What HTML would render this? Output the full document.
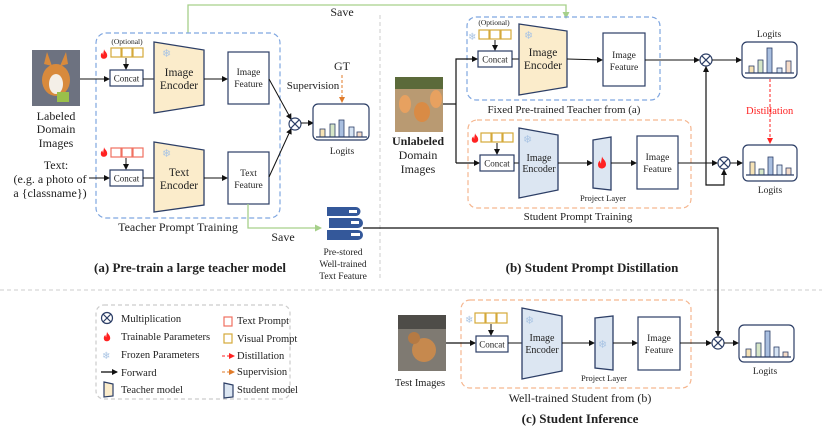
<!DOCTYPE html>
<html><head><meta charset="utf-8"><style>
html,body{margin:0;padding:0;background:#fff}
svg{display:block}
text{font-family:"Liberation Serif",serif;fill:#222}
</style></head><body>
<svg width="822" height="436" viewBox="0 0 822 436" xmlns="http://www.w3.org/2000/svg">
<defs>
<marker id="ab" markerWidth="6" markerHeight="6" refX="5" refY="3" orient="auto" markerUnits="userSpaceOnUse"><path d="M0,0 L6,3 L0,6 z" fill="#111"/></marker>
<marker id="ag" markerWidth="7" markerHeight="7" refX="6" refY="3.5" orient="auto" markerUnits="userSpaceOnUse"><path d="M0,0 L7,3.5 L0,7 z" fill="#a6d08a"/></marker>
<marker id="ao" markerWidth="6" markerHeight="6" refX="5" refY="3" orient="auto" markerUnits="userSpaceOnUse"><path d="M0,0 L6,3 L0,6 z" fill="#e07b2a"/></marker>
<marker id="ar" markerWidth="6" markerHeight="6" refX="5" refY="3" orient="auto" markerUnits="userSpaceOnUse"><path d="M0,0 L6,3 L0,6 z" fill="#f22"/></marker>
<symbol id="fire" viewBox="0 0 10 12"><path d="M5,0 C6,3 9,4 9,8 C9,11 6,12 5,12 C3,12 1,11 1,8 C1,6 2,5 3,4 C3,6 4,7 4,7 C4,4 5,2 5,0z" fill="#f22"/></symbol>
</defs>

<line x1="380" y1="15" x2="380" y2="278" stroke="#ccc" stroke-dasharray="4,3"/>
<line x1="0" y1="290" x2="822" y2="290" stroke="#ccc" stroke-dasharray="4,3"/>

<!-- ===== (a) ===== -->
<polyline points="188,33 188,5 566,5 566,18" fill="none" stroke="#a6d08a" stroke-width="1.3" marker-end="url(#ag)"/>
<text x="342" y="16" font-size="12" text-anchor="middle">Save</text>
<rect x="96" y="33" width="184" height="185" rx="10" fill="none" stroke="#7fa6e0" stroke-dasharray="5,3" stroke-width="1.2"/>
<rect x="32" y="50" width="48" height="56" fill="#6d7280"/>
<ellipse cx="56" cy="80" rx="14" ry="16" fill="#d88a3c"/>
<ellipse cx="56" cy="84" rx="7" ry="10" fill="#f4efe7"/>
<polygon points="44,64 47,52 52,66" fill="#d88a3c"/><polygon points="60,66 66,52 68,64" fill="#d88a3c"/>
<rect x="57" y="92" width="12" height="10" fill="#9ac04a"/>
<text font-size="12" text-anchor="middle"><tspan x="56" y="120">Labeled</tspan><tspan x="56" y="133">Domain</tspan><tspan x="56" y="147">Images</tspan></text>
<text x="127" y="44" font-size="7.5" text-anchor="middle">(Optional)</text>
<use href="#fire" x="100" y="49" width="8" height="10"/>
<g fill="none" stroke="#d4a93a" stroke-width="1.2"><rect x="111" y="48" width="10" height="9"/><rect x="122" y="48" width="10" height="9"/><rect x="133" y="48" width="10" height="9"/></g>
<line x1="126" y1="58" x2="126" y2="69" stroke="#111" marker-end="url(#ab)"/>
<line x1="80" y1="79" x2="109" y2="79" stroke="#111" marker-end="url(#ab)"/>
<rect x="110" y="70" width="33" height="16" fill="#fff" stroke="#2c3e66" stroke-width="1.2"/>
<text x="126.5" y="81.5" font-size="9" text-anchor="middle">Concat</text>
<line x1="143" y1="79" x2="154" y2="79" stroke="#111"/>
<polygon points="154,42 204,50 204,105 154,113" fill="#fbeccb" stroke="#2c3e66" stroke-width="1.3"/>
<text x="162" y="57" font-size="11" style="fill:#a9c4e4">❄</text>
<text font-size="11.5" text-anchor="middle"><tspan x="179" y="76">Image</tspan><tspan x="179" y="89">Encoder</tspan></text>
<line x1="204" y1="79" x2="227" y2="79" stroke="#111" marker-end="url(#ab)"/>
<rect x="228" y="52" width="41" height="52" fill="#fff" stroke="#2c3e66" stroke-width="1.2"/>
<text font-size="9.5" text-anchor="middle"><tspan x="248.5" y="75">Image</tspan><tspan x="248.5" y="87">Feature</tspan></text>
<text font-size="12" text-anchor="middle"><tspan x="56" y="169">Text:</tspan><tspan x="50" y="183">(e.g. a photo of</tspan><tspan x="50" y="197">a {classname})</tspan></text>
<use href="#fire" x="100" y="147" width="8" height="10"/>
<g fill="none" stroke="#f07060" stroke-width="1.2"><rect x="111" y="148" width="10" height="9"/><rect x="122" y="148" width="10" height="9"/><rect x="133" y="148" width="10" height="9"/></g>
<line x1="126" y1="158" x2="126" y2="169" stroke="#111" marker-end="url(#ab)"/>
<line x1="89" y1="178" x2="109" y2="178" stroke="#111" marker-end="url(#ab)"/>
<rect x="110" y="170" width="33" height="16" fill="#fff" stroke="#2c3e66" stroke-width="1.2"/>
<text x="126.5" y="181.5" font-size="9" text-anchor="middle">Concat</text>
<line x1="143" y1="178" x2="154" y2="178" stroke="#111"/>
<polygon points="154,142 204,150 204,205 154,212" fill="#fbeccb" stroke="#2c3e66" stroke-width="1.3"/>
<text x="162" y="157" font-size="11" style="fill:#a9c4e4">❄</text>
<text font-size="11.5" text-anchor="middle"><tspan x="179" y="176">Text</tspan><tspan x="179" y="189">Encoder</tspan></text>
<line x1="204" y1="178" x2="227" y2="178" stroke="#111" marker-end="url(#ab)"/>
<rect x="228" y="152" width="41" height="52" fill="#fff" stroke="#2c3e66" stroke-width="1.2"/>
<text font-size="9.5" text-anchor="middle"><tspan x="248.5" y="176">Text</tspan><tspan x="248.5" y="188">Feature</tspan></text>
<line x1="269" y1="79" x2="291" y2="119" stroke="#111" marker-end="url(#ab)"/>
<line x1="269" y1="177" x2="291" y2="129" stroke="#111" marker-end="url(#ab)"/>
<g stroke="#2c3e66" stroke-width="1.2" fill="#fff"><circle cx="295" cy="124" r="6"/><line x1="290.8" y1="119.8" x2="299.2" y2="128.2"/><line x1="299.2" y1="119.8" x2="290.8" y2="128.2"/></g>
<line x1="301" y1="123" x2="313" y2="123" stroke="#111" marker-end="url(#ab)"/>
<rect x="313" y="104" width="56" height="36" rx="5" fill="#fff" stroke="#2c3e66" stroke-width="1.2"/>
<g stroke="#2c3e66" stroke-width="0.8"><rect x="320" y="129" width="5" height="8" fill="#f7e3b5"/><rect x="330" y="124" width="5" height="13" fill="#d6e6c7"/><rect x="339" y="120" width="5" height="17" fill="#a9bfe0"/><rect x="349" y="127" width="5" height="10" fill="#d5e3f3"/><rect x="357" y="132" width="5" height="5" fill="#f6dcc8"/></g>
<line x1="316" y1="137" x2="367" y2="137" stroke="#2c3e66" stroke-width="1.2"/>
<text x="342" y="154" font-size="9.5" text-anchor="middle">Logits</text>
<text x="342" y="70" font-size="12" text-anchor="middle">GT</text>
<line x1="342" y1="75" x2="342" y2="102" stroke="#e07b2a" stroke-dasharray="3,2" marker-end="url(#ao)"/>
<text x="313" y="89" font-size="11" text-anchor="middle">Supervision</text>
<text x="178" y="231" font-size="12" text-anchor="middle">Teacher Prompt Training</text>
<polyline points="248,204 248,228 321,228" fill="none" stroke="#a6d08a" stroke-width="1.3" marker-end="url(#ag)"/>
<text x="283" y="241" font-size="12" text-anchor="middle">Save</text>
<g fill="#34589a">
<path d="M327,207 h29 a4,4 0 0 1 0,9 h-29 z"/><path d="M329,218 h29 a4,4 0 0 1 0,10 h-29 z"/><path d="M327,230 h31 a4,4 0 0 1 0,10 h-31 z"/>
</g>
<g fill="#fff"><rect x="349" y="210" width="8" height="3"/><rect x="351" y="221" width="8" height="3"/><rect x="351" y="233" width="9" height="3"/></g>
<text font-size="9.5" text-anchor="middle"><tspan x="343" y="255">Pre-stored</tspan><tspan x="343" y="267">Well-trained</tspan><tspan x="343" y="279">Text Feature</tspan></text>
<text x="190" y="272" font-size="13" font-weight="bold" text-anchor="middle">(a) Pre-train a large teacher model</text>

<!-- ===== (b) ===== -->
<polyline points="363,228 718,228 718,336" fill="none" stroke="#111" stroke-width="1.2" marker-end="url(#ab)"/>
<polyline points="706,66 706,185 724,185 724,169" fill="none" stroke="#111" stroke-width="1.2"/>
<line x1="706" y1="90" x2="706" y2="67" stroke="#111" marker-end="url(#ab)"/>
<line x1="724" y1="180" x2="724" y2="170" stroke="#111" marker-end="url(#ab)"/>
<rect x="467" y="17" width="193" height="83" rx="9" fill="none" stroke="#7fa6e0" stroke-dasharray="5,3" stroke-width="1.2"/>
<text x="494" y="25" font-size="7.5" text-anchor="middle">(Optional)</text>
<text x="468" y="40" font-size="10" style="fill:#a9c4e4">❄</text>
<g fill="none" stroke="#d4a93a" stroke-width="1.2"><rect x="479" y="30" width="10" height="9"/><rect x="490" y="30" width="10" height="9"/><rect x="501" y="30" width="10" height="9"/></g>
<line x1="495" y1="40" x2="495" y2="50" stroke="#111" marker-end="url(#ab)"/>
<rect x="478" y="51" width="34" height="16" fill="#fff" stroke="#2c3e66" stroke-width="1.2"/>
<text x="495" y="62.5" font-size="9" text-anchor="middle">Concat</text>
<line x1="512" y1="59" x2="519" y2="59" stroke="#111"/>
<polygon points="519,24 567,31 567,87 519,95" fill="#fbeccb" stroke="#2c3e66" stroke-width="1.3"/>
<text x="524" y="39" font-size="11" style="fill:#a9c4e4">❄</text>
<text font-size="11.5" text-anchor="middle"><tspan x="543" y="56">Image</tspan><tspan x="543" y="69">Encoder</tspan></text>
<line x1="567" y1="59" x2="602" y2="60" stroke="#111" marker-end="url(#ab)"/>
<rect x="603" y="33" width="42" height="53" fill="#fff" stroke="#2c3e66" stroke-width="1.2"/>
<text font-size="9.5" text-anchor="middle"><tspan x="624" y="58">Image</tspan><tspan x="624" y="70">Feature</tspan></text>
<line x1="645" y1="60" x2="699" y2="60" stroke="#111" marker-end="url(#ab)"/>
<g stroke="#2c3e66" stroke-width="1.2" fill="#fff"><circle cx="706" cy="60" r="6"/><line x1="701.8" y1="55.8" x2="710.2" y2="64.2"/><line x1="710.2" y1="55.8" x2="701.8" y2="64.2"/></g>
<line x1="712" y1="60" x2="741" y2="60" stroke="#111" marker-end="url(#ab)"/>
<rect x="742" y="42" width="55" height="36" rx="5" fill="#fff" stroke="#2c3e66" stroke-width="1.2"/>
<g stroke="#2c3e66" stroke-width="0.8"><rect x="749" y="66" width="5" height="7" fill="#f7e3b5"/><rect x="758" y="60" width="5" height="13" fill="#d6e6c7"/><rect x="767" y="48" width="5" height="25" fill="#a9bfe0"/><rect x="777" y="68" width="5" height="5" fill="#d5e3f3"/><rect x="786" y="61" width="5" height="12" fill="#f6dcc8"/></g>
<line x1="745" y1="73" x2="794" y2="73" stroke="#2c3e66" stroke-width="1.2"/>
<text x="769" y="37" font-size="9.5" text-anchor="middle">Logits</text>
<text x="564" y="113" font-size="11" text-anchor="middle">Fixed Pre-trained Teacher from (a)</text>
<line x1="770" y1="79" x2="770" y2="143" stroke="#f22" stroke-dasharray="3,2" marker-end="url(#ar)"/>
<text x="746" y="114" font-size="10.5" style="fill:#f22">Distillation</text>
<rect x="395" y="77" width="48" height="55" fill="#b99a72"/>
<rect x="395" y="77" width="48" height="12" fill="#5b6a3a"/>
<ellipse cx="405" cy="104" rx="6" ry="9" fill="#e7a160"/><ellipse cx="422" cy="112" rx="8" ry="10" fill="#d98b45"/><ellipse cx="436" cy="99" rx="6" ry="9" fill="#e7a160"/>
<text x="418" y="145" font-size="12" font-weight="bold" text-anchor="middle">Unlabeled</text>
<text font-size="12" text-anchor="middle"><tspan x="418" y="159">Domain</tspan><tspan x="418" y="173">Images</tspan></text>
<polyline points="443,104 456,104" fill="none" stroke="#111" stroke-width="1.2"/>
<polyline points="456,163 456,59 477,59" fill="none" stroke="#111" stroke-width="1.2" marker-end="url(#ab)"/>
<line x1="456" y1="163" x2="479" y2="163" stroke="#111" stroke-width="1.2" marker-end="url(#ab)"/>
<rect x="468" y="120" width="223" height="88" rx="9" fill="none" stroke="#f5b68f" stroke-dasharray="5,3" stroke-width="1.2"/>
<use href="#fire" x="471" y="133" width="8" height="10"/>
<g fill="none" stroke="#d4a93a" stroke-width="1.2"><rect x="481" y="133" width="10" height="9"/><rect x="492" y="133" width="10" height="9"/><rect x="503" y="133" width="10" height="9"/></g>
<line x1="497" y1="143" x2="497" y2="154" stroke="#111" marker-end="url(#ab)"/>
<rect x="480" y="155" width="34" height="16" fill="#fff" stroke="#2c3e66" stroke-width="1.2"/>
<text x="497" y="166.5" font-size="9" text-anchor="middle">Concat</text>
<line x1="514" y1="163" x2="519" y2="163" stroke="#111"/>
<polygon points="519,128 558,135 558,190 519,198" fill="#dce6f2" stroke="#2c3e66" stroke-width="1.3"/>
<text x="523" y="143" font-size="11" style="fill:#a9c4e4">❄</text>
<text font-size="10" text-anchor="middle"><tspan x="539" y="161">Image</tspan><tspan x="539" y="172">Encoder</tspan></text>
<line x1="558" y1="163" x2="592" y2="163" stroke="#111" marker-end="url(#ab)"/>
<polygon points="593,140 611,137 611,190 593,188" fill="#dce6f2" stroke="#2c3e66" stroke-width="1.3"/>
<use href="#fire" x="597" y="156" width="10" height="13"/>
<line x1="611" y1="163" x2="636" y2="163" stroke="#111" marker-end="url(#ab)"/>
<rect x="637" y="136" width="41" height="53" fill="#fff" stroke="#2c3e66" stroke-width="1.2"/>
<text font-size="9.5" text-anchor="middle"><tspan x="657.5" y="160">Image</tspan><tspan x="657.5" y="172">Feature</tspan></text>
<text x="603" y="201" font-size="8.5" text-anchor="middle">Project Layer</text>
<line x1="678" y1="163" x2="717" y2="163" stroke="#111" marker-end="url(#ab)"/>
<g stroke="#2c3e66" stroke-width="1.2" fill="#fff"><circle cx="724" cy="163" r="6"/><line x1="719.8" y1="158.8" x2="728.2" y2="167.2"/><line x1="728.2" y1="158.8" x2="719.8" y2="167.2"/></g>
<line x1="730" y1="163" x2="742" y2="163" stroke="#111" marker-end="url(#ab)"/>
<rect x="743" y="145" width="54" height="36" rx="5" fill="#fff" stroke="#2c3e66" stroke-width="1.2"/>
<g stroke="#2c3e66" stroke-width="0.8"><rect x="750" y="162" width="5" height="13" fill="#f7e3b5"/><rect x="759" y="169" width="5" height="6" fill="#d6e6c7"/><rect x="768" y="157" width="5" height="18" fill="#a9bfe0"/><rect x="777" y="165" width="5" height="10" fill="#d5e3f3"/><rect x="786" y="168" width="5" height="7" fill="#f6dcc8"/></g>
<line x1="746" y1="175" x2="794" y2="175" stroke="#2c3e66" stroke-width="1.2"/>
<text x="770" y="193" font-size="9.5" text-anchor="middle">Logits</text>
<text x="578" y="220" font-size="11" text-anchor="middle">Student Prompt Training</text>
<text x="592" y="272" font-size="13" font-weight="bold" text-anchor="middle">(b) Student Prompt Distillation</text>

<!-- ===== (c) ===== -->
<rect x="96" y="305" width="194" height="94" rx="8" fill="none" stroke="#ccc" stroke-dasharray="4,3" stroke-width="1.2"/>
<g stroke="#2c3e66" stroke-width="1.2" fill="#fff"><circle cx="107" cy="318" r="5.5"/><line x1="103" y1="314" x2="111" y2="322"/><line x1="111" y1="314" x2="103" y2="322"/></g>
<use href="#fire" x="103" y="331" width="8" height="11"/>
<text x="102" y="359" font-size="10" style="fill:#a9c4e4">❄</text>
<line x1="101" y1="372" x2="117" y2="372" stroke="#111" stroke-width="1.3" marker-end="url(#ab)"/>
<polygon points="104,382 113,384 113,396 104,397" fill="#fbeccb" stroke="#2c3e66" stroke-width="1.2"/>
<text font-size="10.5"><tspan x="121" y="322">Multiplication</tspan><tspan x="121" y="340">Trainable Parameters</tspan><tspan x="121" y="358">Frozen Parameters</tspan><tspan x="121" y="376">Forward</tspan><tspan x="121" y="393">Teacher model</tspan></text>
<rect x="224" y="317" width="8" height="9" fill="none" stroke="#f07060" stroke-width="1.2"/>
<rect x="224" y="334" width="8" height="9" fill="none" stroke="#d4a93a" stroke-width="1.2"/>
<line x1="222" y1="356" x2="234" y2="356" stroke="#f22" stroke-dasharray="3,2" marker-end="url(#ar)"/>
<line x1="222" y1="372" x2="234" y2="372" stroke="#e07b2a" stroke-dasharray="3,2" marker-end="url(#ao)"/>
<polygon points="224,383 233,385 233,397 224,398" fill="#dce6f2" stroke="#2c3e66" stroke-width="1.2"/>
<text font-size="10.5"><tspan x="237" y="324">Text Prompt</tspan><tspan x="237" y="342">Visual Prompt</tspan><tspan x="237" y="359">Distillation</tspan><tspan x="237" y="375">Supervision</tspan><tspan x="237" y="393">Student model</tspan></text>

<rect x="398" y="315" width="48" height="56" fill="#7f7a72"/>
<rect x="398" y="315" width="48" height="14" fill="#4e4c48"/>
<ellipse cx="424" cy="350" rx="12" ry="12" fill="#c6894e"/><ellipse cx="414" cy="338" rx="6" ry="6" fill="#b57a44"/>
<text x="420" y="386" font-size="10.5" text-anchor="middle">Test Images</text>
<rect x="461" y="300" width="230" height="88" rx="9" fill="none" stroke="#f5b68f" stroke-dasharray="5,3" stroke-width="1.2"/>
<text x="465" y="323" font-size="10" style="fill:#a9c4e4">❄</text>
<g fill="none" stroke="#d4a93a" stroke-width="1.2"><rect x="475" y="313" width="10" height="10"/><rect x="486" y="313" width="10" height="10"/><rect x="497" y="313" width="10" height="10"/></g>
<line x1="491" y1="324" x2="491" y2="335" stroke="#111" marker-end="url(#ab)"/>
<line x1="446" y1="343" x2="475" y2="343" stroke="#111" stroke-width="1.2" marker-end="url(#ab)"/>
<rect x="476" y="336" width="32" height="16" fill="#fff" stroke="#2c3e66" stroke-width="1.2"/>
<text x="492" y="347.5" font-size="9" text-anchor="middle">Concat</text>
<line x1="508" y1="343" x2="522" y2="343" stroke="#111"/>
<polygon points="522,308 562,316 562,371 522,379" fill="#dce6f2" stroke="#2c3e66" stroke-width="1.3"/>
<text x="525" y="324" font-size="11" style="fill:#a9c4e4">❄</text>
<text font-size="10" text-anchor="middle"><tspan x="542" y="341">Image</tspan><tspan x="542" y="353">Encoder</tspan></text>
<line x1="562" y1="343" x2="594" y2="343" stroke="#111" marker-end="url(#ab)"/>
<polygon points="595,318 613,316 613,370 595,368" fill="#dce6f2" stroke="#2c3e66" stroke-width="1.3"/>
<text x="598" y="348" font-size="11" style="fill:#a9c4e4">❄</text>
<line x1="613" y1="343" x2="637" y2="343" stroke="#111" marker-end="url(#ab)"/>
<rect x="638" y="317" width="42" height="53" fill="#fff" stroke="#2c3e66" stroke-width="1.2"/>
<text font-size="9.5" text-anchor="middle"><tspan x="659" y="341">Image</tspan><tspan x="659" y="353">Feature</tspan></text>
<text x="604" y="381" font-size="8.5" text-anchor="middle">Project Layer</text>
<line x1="680" y1="343" x2="711" y2="343" stroke="#111" marker-end="url(#ab)"/>
<g stroke="#2c3e66" stroke-width="1.2" fill="#fff"><circle cx="718" cy="343" r="6"/><line x1="713.8" y1="338.8" x2="722.2" y2="347.2"/><line x1="722.2" y1="338.8" x2="713.8" y2="347.2"/></g>
<line x1="724" y1="343" x2="738" y2="343" stroke="#111" marker-end="url(#ab)"/>
<rect x="739" y="325" width="55" height="37" rx="5" fill="#fff" stroke="#2c3e66" stroke-width="1.2"/>
<g stroke="#2c3e66" stroke-width="0.8"><rect x="746" y="349" width="5" height="8" fill="#f7e3b5"/><rect x="756" y="343" width="5" height="14" fill="#d6e6c7"/><rect x="765" y="331" width="5" height="26" fill="#a9bfe0"/><rect x="774" y="347" width="5" height="10" fill="#d5e3f3"/><rect x="783" y="352" width="5" height="5" fill="#f6dcc8"/></g>
<line x1="742" y1="357" x2="791" y2="357" stroke="#2c3e66" stroke-width="1.2"/>
<text x="765" y="374" font-size="9.5" text-anchor="middle">Logits</text>
<text x="580" y="402" font-size="12" text-anchor="middle">Well-trained Student from (b)</text>
<text x="580" y="423" font-size="13" font-weight="bold" text-anchor="middle">(c) Student Inference</text>
</svg>
</body></html>
